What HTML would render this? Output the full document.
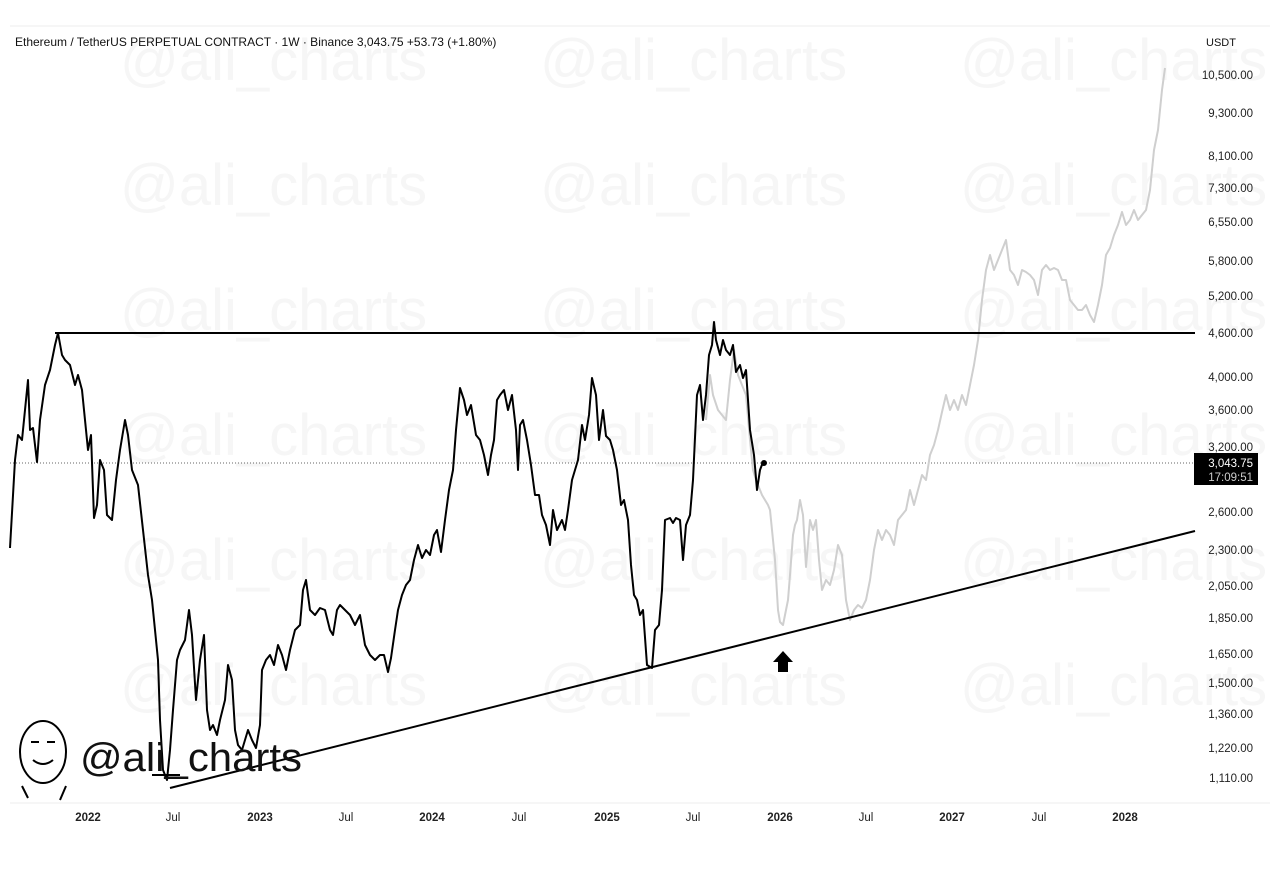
<!DOCTYPE html>
<html><head><meta charset="utf-8"><style>
html,body{margin:0;padding:0;background:#fff;width:1280px;height:888px;overflow:hidden}
svg{display:block}
text{font-family:"Liberation Sans",sans-serif}
</style></head><body>
<svg width="1280" height="888" viewBox="0 0 1280 888" xmlns="http://www.w3.org/2000/svg">
<g fill="#f6f6f6" font-size="58">
<text x="120" y="80">@ali_charts</text><text x="540" y="80">@ali_charts</text><text x="960" y="80">@ali_charts</text>
<text x="120" y="205">@ali_charts</text><text x="540" y="205">@ali_charts</text><text x="960" y="205">@ali_charts</text>
<text x="120" y="330">@ali_charts</text><text x="540" y="330">@ali_charts</text><text x="960" y="330">@ali_charts</text>
<text x="120" y="455">@ali_charts</text><text x="540" y="455">@ali_charts</text><text x="960" y="455">@ali_charts</text>
<text x="120" y="580">@ali_charts</text><text x="540" y="580">@ali_charts</text><text x="960" y="580">@ali_charts</text>
<text x="120" y="705">@ali_charts</text><text x="540" y="705">@ali_charts</text><text x="960" y="705">@ali_charts</text>
</g>
<line x1="10" y1="26" x2="1270" y2="26" stroke="#eee"/>
<line x1="10" y1="803" x2="1270" y2="803" stroke="#eee"/>
<text x="15" y="46" font-size="12" fill="#111">Ethereum / TetherUS PERPETUAL CONTRACT · 1W · Binance  3,043.75  +53.73 (+1.80%)</text>
<text x="1206" y="46" font-size="11" fill="#111">USDT</text>
<g font-size="11.5" fill="#222" text-anchor="end">
<text x="1253" y="79">10,500.00</text><text x="1253" y="117">9,300.00</text><text x="1253" y="160">8,100.00</text>
<text x="1253" y="192">7,300.00</text><text x="1253" y="226">6,550.00</text><text x="1253" y="265">5,800.00</text>
<text x="1253" y="300">5,200.00</text><text x="1253" y="337">4,600.00</text><text x="1253" y="381">4,000.00</text>
<text x="1253" y="414">3,600.00</text><text x="1253" y="451">3,200.00</text><text x="1253" y="516">2,600.00</text>
<text x="1253" y="554">2,300.00</text><text x="1253" y="590">2,050.00</text><text x="1253" y="622">1,850.00</text>
<text x="1253" y="658">1,650.00</text><text x="1253" y="687">1,500.00</text><text x="1253" y="718">1,360.00</text>
<text x="1253" y="752">1,220.00</text><text x="1253" y="782">1,110.00</text>
</g>
<rect x="1194" y="453" width="64" height="32" fill="#000"/>
<text x="1253" y="467" font-size="11.5" fill="#fff" text-anchor="end">3,043.75</text>
<text x="1253" y="481" font-size="11.5" fill="#ccc" text-anchor="end">17:09:51</text>
<g font-size="11.5" fill="#222" text-anchor="middle">
<text x="88" y="821" font-weight="bold">2022</text><text x="173" y="821">Jul</text>
<text x="260" y="821" font-weight="bold">2023</text><text x="346" y="821">Jul</text>
<text x="432" y="821" font-weight="bold">2024</text><text x="519" y="821">Jul</text>
<text x="607" y="821" font-weight="bold">2025</text><text x="693" y="821">Jul</text>
<text x="780" y="821" font-weight="bold">2026</text><text x="866" y="821">Jul</text>
<text x="952" y="821" font-weight="bold">2027</text><text x="1039" y="821">Jul</text>
<text x="1125" y="821" font-weight="bold">2028</text>
</g>
<line x1="10" y1="463" x2="1193" y2="463" stroke="#333" stroke-width="0.8" stroke-dasharray="1,2"/>
<polyline fill="none" stroke="#cfcfcf" stroke-width="2" stroke-linejoin="round" points="706,420 710,375 713,395 718,410 722,415 726,420 730,380 734,350 738,375 742,385 746,395 750,440 753,470 756,480 762,495 768,505 770,510 775,560 778,610 780,622 783,625 785,615 788,600 790,575 793,535 795,525 797,520 800,500 803,515 806,567 810,520 813,530 816,520 819,560 822,590 826,580 830,585 834,570 838,545 842,555 846,600 850,620 854,610 858,605 862,608 866,600 870,580 874,550 878,530 882,540 886,530 890,535 894,545 898,520 902,515 906,510 910,490 914,505 918,490 922,475 926,480 930,455 934,445 938,430 942,412 946,395 950,410 954,400 958,410 962,395 966,405 970,385 974,365 978,340 982,300 986,270 990,255 994,270 998,260 1002,250 1006,240 1010,270 1014,275 1018,285 1022,270 1026,272 1030,275 1034,280 1038,295 1042,270 1046,265 1050,270 1054,268 1058,270 1062,280 1066,280 1070,300 1074,305 1078,310 1082,310 1086,305 1090,315 1094,322 1098,305 1102,285 1106,255 1110,248 1114,235 1118,225 1122,212 1126,225 1130,220 1134,210 1138,220 1142,215 1146,210 1150,190 1154,150 1158,130 1162,90 1165,68"/>
<line x1="55" y1="333" x2="1195" y2="333" stroke="#000" stroke-width="2"/>
<line x1="170" y1="788" x2="1195" y2="531" stroke="#000" stroke-width="2"/>
<polyline fill="none" stroke="#000" stroke-width="2" stroke-linejoin="round" points="10,548 15,460 18,435 22,440 25,410 28,380 30,430 33,428 37,462 40,420 45,385 50,370 55,345 58,333 62,355 65,360 70,365 75,385 78,375 82,390 85,420 88,450 91,435 94,518 97,505 100,460 104,470 107,515 112,520 116,480 120,450 125,420 128,435 132,470 138,485 143,530 148,575 152,600 155,630 158,660 160,720 163,770 167,780 170,750 173,710 177,660 180,650 185,640 189,610 192,635 196,700 200,660 204,635 207,710 210,730 213,725 217,735 220,720 225,700 228,665 232,680 235,730 238,745 242,750 245,740 248,730 252,740 256,748 260,725 262,670 266,660 270,655 274,665 278,645 282,655 286,670 290,650 295,630 300,625 303,590 306,580 310,610 315,615 320,608 325,610 330,630 333,635 337,610 340,605 345,610 350,615 355,625 360,615 365,645 370,655 375,660 380,655 384,655 388,672 391,658 395,630 398,610 402,595 406,585 410,580 414,560 418,545 422,558 426,550 430,555 434,535 437,530 441,552 445,520 449,490 453,470 456,430 460,388 464,400 467,415 471,405 476,435 480,440 484,455 488,475 491,455 494,440 497,400 500,395 504,390 508,410 512,395 516,430 518,470 520,425 523,420 527,440 531,465 535,495 539,495 542,515 546,525 550,545 553,510 557,530 562,520 565,530 568,510 572,480 575,470 578,460 582,425 585,440 589,415 592,378 596,395 599,440 603,410 606,436 610,440 613,450 617,470 621,505 624,500 628,520 631,565 634,595 637,600 640,615 643,610 647,665 652,668 655,630 659,625 662,590 665,520 670,518 673,523 676,518 680,520 683,560 686,525 690,515 693,480 697,395 700,385 703,420 706,395 709,355 712,345 714,322 716,340 720,355 723,340 726,350 730,355 733,345 736,372 740,365 743,378 746,370 750,430 754,455 757,490 760,470 763,462"/>
<circle cx="764" cy="463" r="3" fill="#000"/>
<polygon points="783,651 773,662 778,662 778,672 788,672 788,662 793,662" fill="#000"/>
<line x1="152" y1="775" x2="180" y2="775" stroke="#000" stroke-width="2"/>
<g fill="none" stroke="#000" stroke-width="2">
<ellipse cx="43" cy="752" rx="23" ry="31" fill="#fff"/>
<path d="M33 760 q10 8 20 0"/>
<path d="M31 742 h8 M47 742 h8"/>
<path d="M28 798 l-6 -12 M60 800 l6 -14"/>
</g>
<text x="80" y="771" font-size="40" fill="#111" textLength="222" lengthAdjust="spacingAndGlyphs">@ali_charts</text>
</svg>
</body></html>
